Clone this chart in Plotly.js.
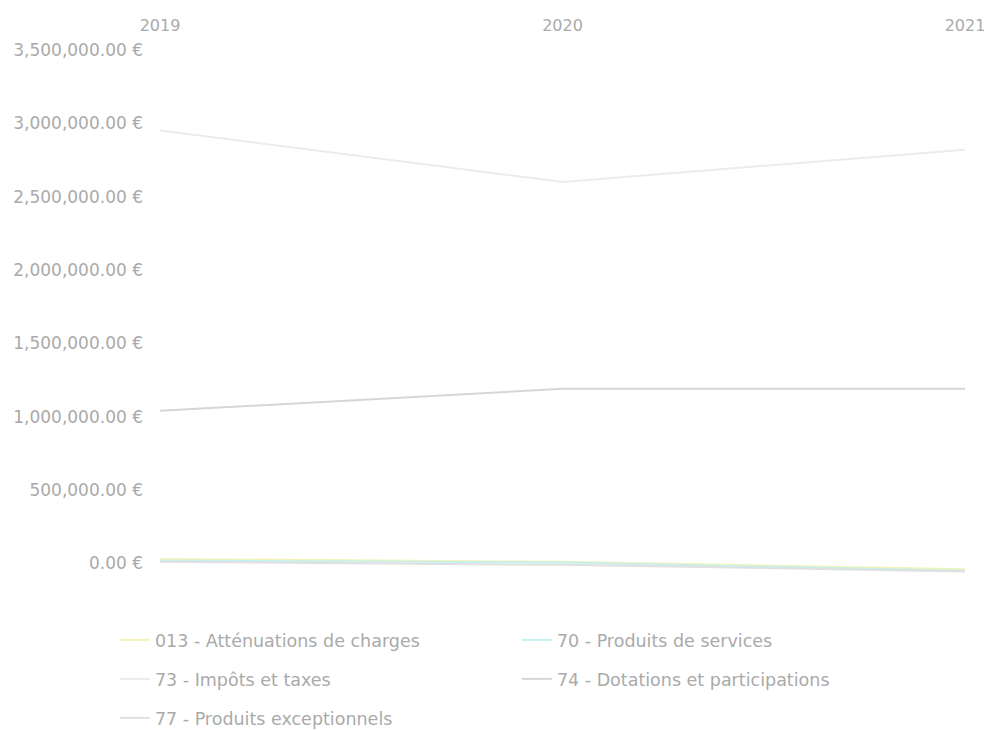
<!DOCTYPE html>
<html>
<head>
<meta charset="utf-8">
<script src="https://cdn.plot.ly/plotly-3.0.1.min.js"></script>
<style>
  html, body { margin: 0; padding: 0; background: #ffffff; }
  #chart { width: 991px; height: 730px; }
</style>
</head>
<body>
<div id="chart"></div>
<script>
const years = ['2019', '2020', '2021'];
const seriesNames = [
  '013 - Atténuations de charges',
  '70 - Produits de services',
  '73 - Impôts et taxes',
  '74 - Dotations et participations',
  '77 - Produits exceptionnels'
];
const attenuations = [30000, 10000, -40000];
const produitsServices = [20000, 5000, -50000];
const impotsTaxes = [2950000, 2600000, 2820000];
const dotations = [1040000, 1190000, 1190000];
const produitsExceptionnels = [10000, -10000, -55000];
const yTickValues = [0, 500000, 1000000, 1500000, 2000000, 2500000, 3000000, 3500000];
const seriesColors = ['#f3f3b8', '#c6efef', '#ececec', '#d6d6d6', '#e0e0e0'];
const legendRows = ['legend', 'legend', 'legend2', 'legend2', 'legend3'];

const fmt = v => v.toLocaleString('en-US', { minimumFractionDigits: 2, maximumFractionDigits: 2 }) + ' €';

const values = [attenuations, produitsServices, impotsTaxes, dotations, produitsExceptionnels];
const traces = values.map((v, i) => ({
  type: 'scatter',
  mode: 'lines',
  x: years,
  y: v,
  name: seriesNames[i],
  legend: legendRows[i],
  line: { color: seriesColors[i], width: 2 }
}));

const plotBottom = 578, plotHeight = 578 - 47;
const rowY = px => -(px - plotBottom) / plotHeight;

const legendBase = {
  orientation: 'h',
  x: -0.056,
  xanchor: 'left',
  yanchor: 'middle',
  entrywidth: 357,
  entrywidthmode: 'pixels',
  font: { family: 'DejaVu Sans, sans-serif', size: 17.5, color: '#aaaaaa' },
  bgcolor: 'rgba(0,0,0,0)'
};

const layout = {
  width: 991,
  height: 730,
  paper_bgcolor: '#ffffff',
  plot_bgcolor: '#ffffff',
  font: { family: 'DejaVu Sans, sans-serif', size: 16, color: '#aaaaaa' },
  margin: { l: 160, r: 26, t: 47, b: 152, autoexpand: false },
  xaxis: {
    type: 'category',
    side: 'top',
    showgrid: false,
    zeroline: false,
    showline: false,
    ticks: '',
    ticklabelstandoff: 12,
    tickfont: { size: 16, color: '#aaaaaa' }
  },
  yaxis: {
    range: [-100000, 3520000],
    tickvals: yTickValues,
    ticktext: yTickValues.map(fmt),
    showgrid: false,
    zeroline: false,
    showline: false,
    ticks: '',
    ticklabelstandoff: 16,
    tickfont: { size: 17, color: '#aaaaaa' }
  },
  legend: Object.assign({}, legendBase, { y: rowY(640) }),
  legend2: Object.assign({}, legendBase, { y: rowY(679) }),
  legend3: Object.assign({}, legendBase, { y: rowY(718) }),
  showlegend: true
};

Plotly.newPlot('chart', traces, layout, { displayModeBar: false, staticPlot: true });
</script>
</body>
</html>
